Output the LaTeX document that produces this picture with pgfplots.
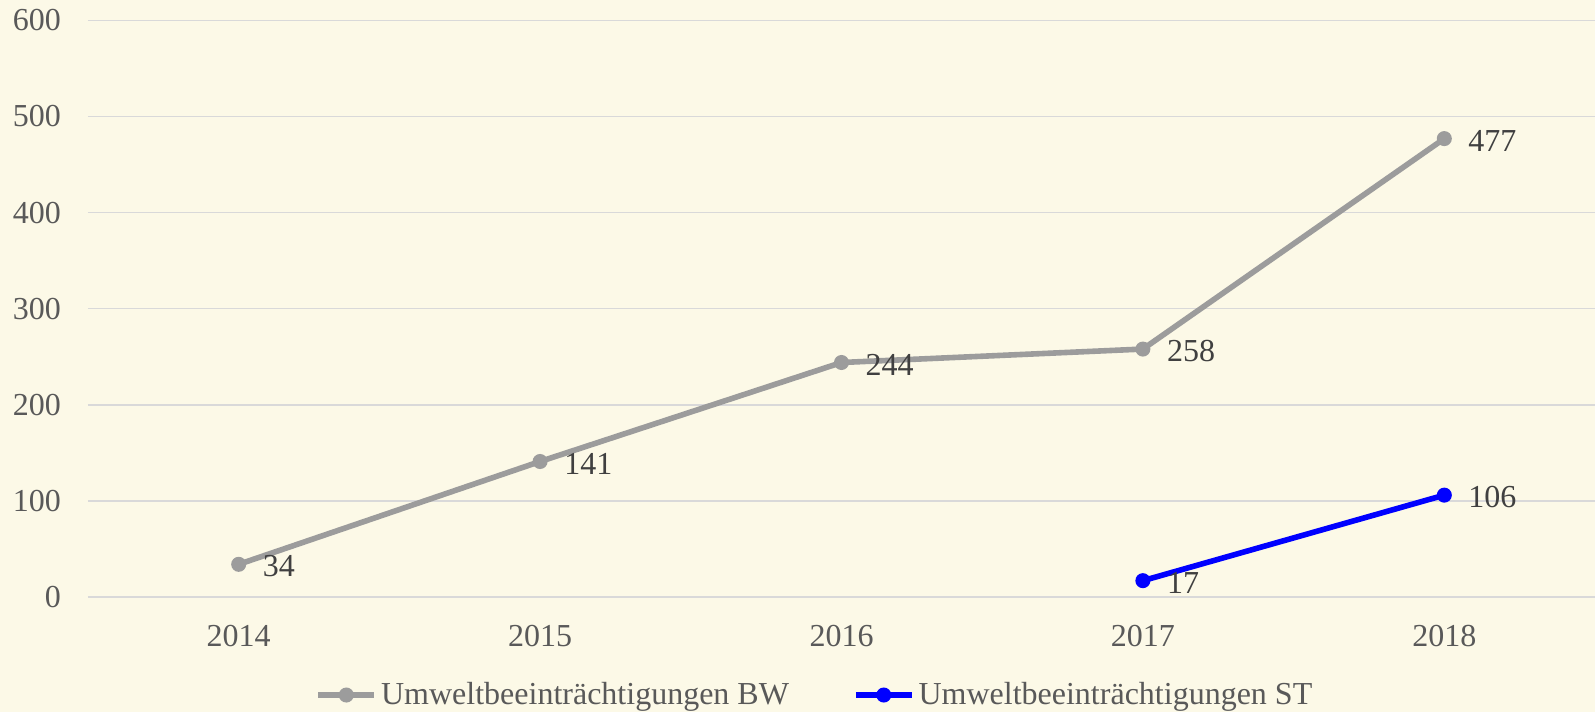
\documentclass[border=0pt]{standalone}
\usepackage{fontspec}
\setmainfont{Liberation Serif}
\usepackage{pgfplots}
\pgfplotsset{compat=1.18}
\definecolor{bgc}{HTML}{FCF9E7}
\definecolor{gridc}{HTML}{D9D9D9}
\definecolor{bwc}{HTML}{9C9C9C}
\definecolor{stc}{HTML}{0000FF}
\definecolor{tickc}{HTML}{595959}
\definecolor{labc}{HTML}{404040}
\begin{document}
\begin{tikzpicture}
\fill[bgc] (-44pt,-57.5pt) rectangle (753.5pt,298.5pt);
\useasboundingbox (-44pt,-57.5pt) rectangle (753.5pt,298.5pt);
\begin{axis}[
    at={(0pt,0pt)}, anchor=south west,
    scale only axis,
    width=753.5pt, height=288.3pt,
    xmin=-0.5, xmax=4.5,
    ymin=0, ymax=600,
    ytick={0,100,...,600},
    xtick={0,1,2,3,4},
    xticklabels={2014,2015,2016,2017,2018},
    axis line style={draw=none},
    major tick length=0pt,
    ymajorgrids=true,
    grid style={gridc, line width=0.75pt},
    /pgf/number format/assume math mode=true,
    tick label style={font=\fontsize{16}{18}\selectfont, text=tickc},
    yticklabel style={xshift=-10pt},
    xticklabel style={yshift=-10.5pt},
    legend style={at={(0.483,-0.17)}, anchor=center, draw=none, fill=none,
        legend columns=2, font=\fontsize{16}{18}\selectfont, text=tickc,
        /tikz/every even column/.append style={column sep=30pt},
        inner sep=0pt},
    legend image code/.code={
        \draw[#1, mark repeat=2, mark phase=2] plot coordinates {(0pt,0pt) (14pt,0pt) (28pt,0pt)};
    },
    nodes near coords,
    every node near coord/.append style={font=\fontsize{16}{18}\selectfont, text=labc,
        anchor=west, xshift=8pt, yshift=-1pt},
    clip=false,
]
\addplot[bwc, line width=2.8pt, mark=*, mark size=3pt, mark options={fill=bwc, draw=bwc, line width=1.5pt}]
    coordinates {(0,34) (1,141) (2,244) (3,258) (4,477)};
\addlegendentry{Umweltbeeinträchtigungen BW}
\addplot[stc, line width=2.8pt, mark=*, mark size=3pt, mark options={fill=stc, draw=stc, line width=1.5pt}]
    coordinates {(3,17) (4,106)};
\addlegendentry{Umweltbeeinträchtigungen ST}
\end{axis}
\end{tikzpicture}
\end{document}
